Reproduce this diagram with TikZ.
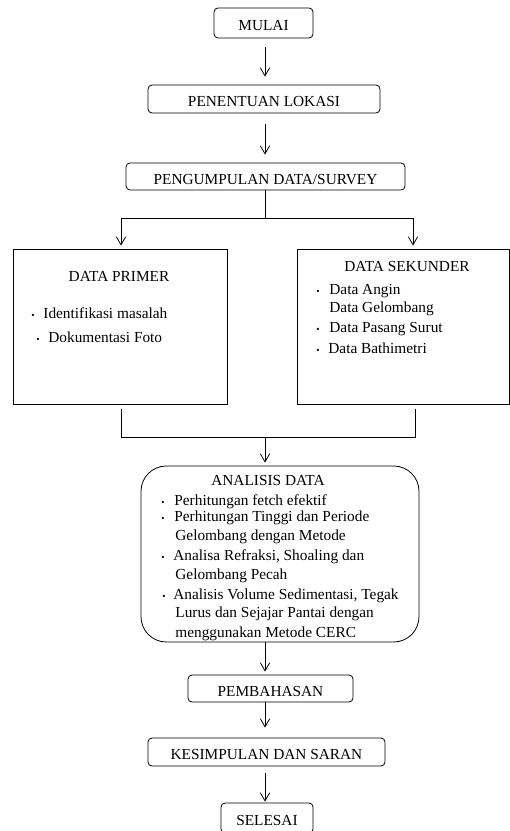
\documentclass[tikz,border=0pt]{standalone}
\usepackage{fontspec}
\setmainfont{Liberation Serif}
\usetikzlibrary{arrows.meta,calc,positioning}

\tikzset{
  arr/.style={-{Straight Barb[length=6pt,width=7pt]}},
  stage/.style={draw, rounded corners=3pt, text height=11.5pt, text depth=0pt, inner sep=0pt},
  datbox/.style={draw, inner sep=0pt},
  hd/.style={anchor=base, inner sep=0pt},
  ln/.style={anchor=base west, inner sep=0pt},
  bul/.style={anchor=base, inner sep=0pt, font=\fontsize{7}{7}\selectfont},
}

\begin{document}
\begin{tikzpicture}[x=0.75pt, y=-0.75pt, line width=0.6pt, font=\fontsize{11.5}{14}\selectfont]
  \useasboundingbox (0,0) rectangle (510,831);
  % main stages
  \node[stage, minimum width=74.25pt, minimum height=22.5pt] (mulai) at (263.5,23) {MULAI};
  \node[stage, minimum width=174pt, minimum height=21pt] (lokasi) at (264,99) {PENENTUAN LOKASI};
  \node[stage, minimum width=209.25pt, minimum height=20.25pt] (survey) at (265.5,176.5) {PENGUMPULAN DATA/SURVEY};
  % data boxes
  \node[datbox, minimum width=160.5pt, minimum height=116.25pt] (primer) at (120,326.5) {};
  \node[datbox, minimum width=159pt, minimum height=116.25pt] (sekunder) at (403,326.5) {};
  \node[hd] at (119,281) {DATA PRIMER};
  \node[bul] at (33,318) {\textbullet};
  \node[ln] at (43,318) {Identifikasi masalah};
  \node[bul] at (38,342) {\textbullet};
  \node[ln] at (48,342) {Dokumentasi Foto};
  \node[hd] at (407,271) {DATA SEKUNDER};
  \node[bul] at (318,294) {\textbullet};
  \node[ln] at (329,294) {Data Angin};
  \node[ln] at (329,312) {Data Gelombang};
  \node[bul] at (318,332) {\textbullet};
  \node[ln] at (329,332) {Data Pasang Surut};
  \node[bul] at (318,353) {\textbullet};
  \node[ln] at (328,353) {Data Bathimetri};
  % analysis
  \node[draw, rounded corners=19pt, minimum width=208.5pt, minimum height=132pt, inner sep=0pt] (analisis) at (280,554) {};
  \node[hd] at (268,485) {ANALISIS DATA};
  \node[bul] at (163,505) {\textbullet};
  \node[ln] at (174,505) {Perhitungan fetch efektif};
  \node[bul] at (163,521) {\textbullet};
  \node[ln] at (174,521) {Perhitungan Tinggi dan Periode};
  \node[ln] at (175,540) {Gelombang dengan Metode};
  \node[bul] at (163,560) {\textbullet};
  \node[ln] at (173,560) {Analisa Refraksi, Shoaling dan};
  \node[ln] at (175,579) {Gelombang Pecah};
  \node[bul] at (164,599) {\textbullet};
  \node[ln] at (173,599) {Analisis Volume Sedimentasi, Tegak};
  \node[ln] at (175,617) {Lurus dan Sejajar Pantai dengan};
  \node[ln] at (175,637) {menggunakan Metode CERC};
  % closing stages
  \node[stage, minimum width=123.75pt, minimum height=20.25pt] (pembahasan) at (270.5,688.5) {PEMBAHASAN};
  \node[stage, minimum width=177.75pt, minimum height=21pt] (kesimpulan) at (266.5,752) {KESIMPULAN DAN SARAN};
  \node[stage, minimum width=69pt, minimum height=22.5pt] (selesai) at (267,818) {SELESAI};
  % connectors
  \coordinate (ax) at (265,0);
  \draw[arr, shorten <=6.75pt, shorten >=6pt] (ax |- mulai.south) -- (ax |- lokasi.north);
  \draw[arr, shorten <=8.25pt, shorten >=6pt] (ax |- lokasi.south) -- (ax |- survey.north);
  \coordinate (sL) at (121,218);
  \coordinate (sR) at (413,218);
  \draw (ax |- survey.south) -- (ax |- sL);
  \draw (sL) -- (sR);
  \draw[arr, shorten >=2.25pt] (sL) -- (sL |- primer.north);
  \draw[arr, shorten >=2.25pt] (sR) -- (sR |- sekunder.north);
  \coordinate (jL) at (121,437);
  \coordinate (jR) at (415,437);
  \draw[shorten <=3.75pt, shorten >=3.75pt] (jL |- primer.south) -- (jL) -- (jR) -- (jR |- sekunder.south);
  \draw[arr, shorten >=2.25pt] (ax |- jL) -- (ax |- analisis.north);
  \draw[arr, shorten >=2.25pt] (ax |- analisis.south) -- (ax |- pembahasan.north);
  \draw[arr, shorten >=7.5pt] (ax |- pembahasan.south) -- (ax |- kesimpulan.north);
  \draw[arr, shorten <=5.25pt, shorten >=0.75pt] (ax |- kesimpulan.south) -- (ax |- selesai.north);
\end{tikzpicture}
\end{document}
